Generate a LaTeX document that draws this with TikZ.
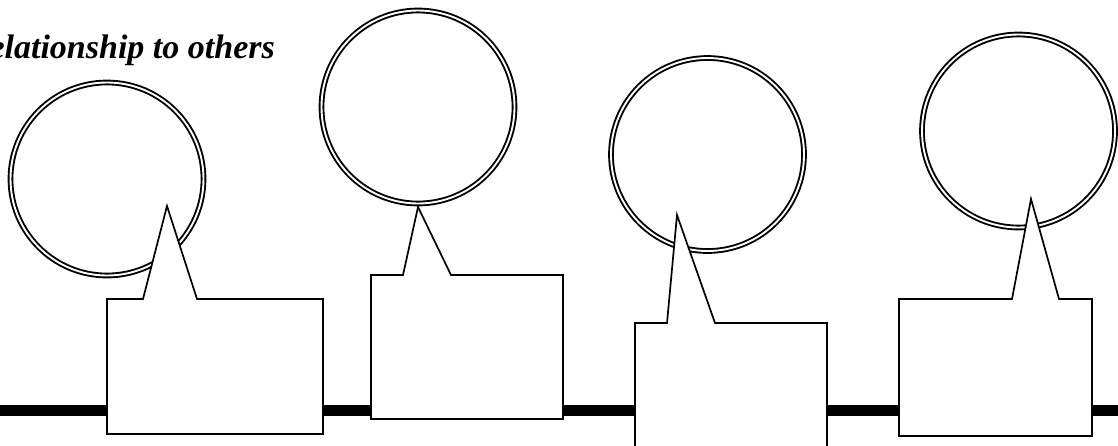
\documentclass[tikz,border=0pt]{standalone}
\usepackage{fontspec}
\setmainfont{Liberation Serif}
\usepackage{tikz}
\usetikzlibrary{positioning}

\tikzset{
    ring/.style={circle, draw, double, line width=1.9pt, double distance=1.9pt, minimum size=193pt, inner sep=0pt},
    bubble/.style={draw, fill=white, line width=1.7pt, line join=miter},
    timeline/.style={line width=11pt}
}

\begin{document}
\begin{tikzpicture}[x=1pt, y=-1pt]
    \useasboundingbox (0,0) rectangle (1118,445);

    % Time line
    \coordinate (start) at (0,410);
    \coordinate (stop) at (1118,410);
    \draw[timeline] (start) -- (stop);

    % Thought rings
    \node[ring] (r1) at (107,179) {};
    \node[ring] (r2) at (418,107) {};
    \node[ring] (r3) at (707.5,154.5) {};
    \node[ring] (r4) at (1018.5,131) {};

    % Speech bubbles
    \draw[bubble] (107,299) -- (143,299) -- (167,206) -- (197,299) -- (323,299) -- (323,434) -- (107,434) -- cycle;
    \draw[bubble] (371,275) -- (403,275) -- (418,207) -- (451,275) -- (563,275) -- (563,419) -- (371,419) -- cycle;
    \draw[bubble] (635,323) -- (667,323) -- (677,215) -- (715,323) -- (827,323) -- (827,470) -- (635,470) -- cycle;
    \draw[bubble] (899,299) -- (1012,299) -- (1031,199) -- (1059,299) -- (1092,299) -- (1092,436) -- (899,436) -- cycle;

    % Heading
    \node[anchor=base east, inner sep=0pt, font=\fontsize{34}{36}\selectfont\bfseries\itshape] (title) at (275,58) {Relationship to others};
\end{tikzpicture}
\end{document}
